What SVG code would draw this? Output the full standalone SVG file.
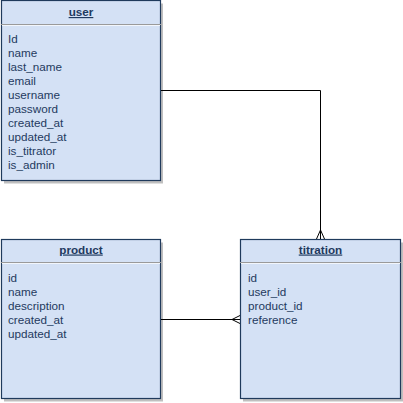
<svg xmlns="http://www.w3.org/2000/svg" width="403" height="403" viewBox="0 0 403 403">
<style>
.shadow{fill:#bfbfbf;stroke:none}
.box{fill:#d4e1f5;stroke:#1f3a5c;stroke-width:1.2}
.sep{stroke:#9a9a9a;stroke-width:1}
.sep2{stroke:#f2f6fc;stroke-width:1}
.title{font-family:"Liberation Sans",Arial,sans-serif;font-size:11.7px;font-weight:bold;fill:#1f3a60;text-anchor:middle;text-decoration:underline}
.attr{font-family:"Liberation Sans",Arial,sans-serif;font-size:11.7px;fill:#1f3a60}
.conn{stroke:#000;stroke-width:1;fill:none}
</style>
<rect width="403" height="403" fill="#ffffff"/>
<g id="user">
<rect class="shadow" x="4" y="3.5" width="159" height="180"/>
<rect class="box" x="1.5" y="0.5" width="159" height="180"/>
<line class="sep" x1="1" y1="24.5" x2="161" y2="24.5"/>
<line class="sep2" x1="2" y1="25.5" x2="160" y2="25.5"/>
<text class="title" x="81" y="16">user</text>
<text class="attr" x="8" y="43">Id</text>
<text class="attr" x="8" y="57">name</text>
<text class="attr" x="8" y="71">last_name</text>
<text class="attr" x="8" y="85">email</text>
<text class="attr" x="8" y="99">username</text>
<text class="attr" x="8" y="113">password</text>
<text class="attr" x="8" y="127">created_at</text>
<text class="attr" x="8" y="141">updated_at</text>
<text class="attr" x="8" y="155">is_titrator</text>
<text class="attr" x="8" y="169">is_admin</text>
</g>
<g id="product">
<rect class="shadow" x="4" y="242.5" width="159" height="159"/>
<rect class="box" x="1.5" y="239.5" width="159" height="159"/>
<line class="sep" x1="1" y1="262.5" x2="161" y2="262.5"/>
<line class="sep2" x1="2" y1="263.5" x2="160" y2="263.5"/>
<text class="title" x="81" y="253.5">product</text>
<text class="attr" x="8" y="281.5">id</text>
<text class="attr" x="8" y="295.5">name</text>
<text class="attr" x="8" y="309.5">description</text>
<text class="attr" x="8" y="323.5">created_at</text>
<text class="attr" x="8" y="337.5">updated_at</text>
</g>
<g id="titration">
<rect class="shadow" x="243" y="242.5" width="160" height="159"/>
<rect class="box" x="240.5" y="239.5" width="160" height="159"/>
<line class="sep" x1="240" y1="262.5" x2="401" y2="262.5"/>
<line class="sep2" x1="241" y1="263.5" x2="400" y2="263.5"/>
<text class="title" x="320.5" y="253.5">titration</text>
<text class="attr" x="248" y="281.5">id</text>
<text class="attr" x="248" y="295.5">user_id</text>
<text class="attr" x="248" y="309.5">product_id</text>
<text class="attr" x="248" y="323.5">reference</text>
</g>
<g id="connectors">
<polyline class="conn" points="161,90.5 320.5,90.5 320.5,239"/>
<polyline class="conn" points="316.5,239 320.5,230 324.5,239"/>
<line class="conn" x1="161" y1="319.5" x2="240" y2="319.5"/>
<polyline class="conn" points="240,315.5 232,319.5 240,323.5"/>
</g>
</svg>
